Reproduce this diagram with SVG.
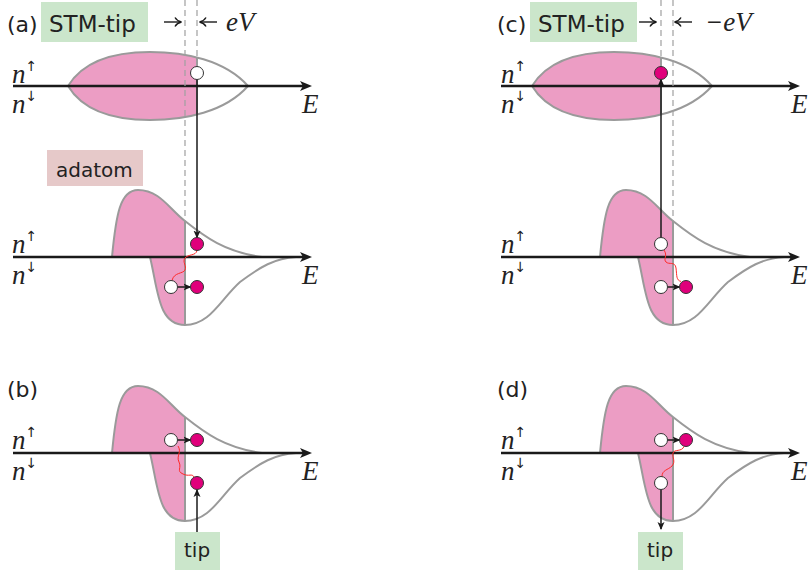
<svg xmlns="http://www.w3.org/2000/svg" width="808" height="570" viewBox="0 0 808 570">
<style>
.ax{stroke:#1a1a1a;stroke-width:2.6;fill:none;marker-end:url(#axh)}
.dos{fill:none;stroke:#9a9a9a;stroke-width:2}
.pk{fill:#ec9dc4;stroke:none}
.dash{stroke:#a0a0a0;stroke-width:1.2;stroke-dasharray:6,4;fill:none}
.lbl{font-family:"DejaVu Sans",sans-serif;fill:#222}
.math{font-family:"Liberation Serif",serif;font-style:italic;font-size:27px;fill:#222}
.sup{font-family:"DejaVu Sans",sans-serif;font-style:normal;font-size:14px;fill:#222}
.full{fill:#e0007b;stroke:#333;stroke-width:1}
.empty{fill:#fff;stroke:#333;stroke-width:1}
.arr{stroke:#1a1a1a;stroke-width:1.5;fill:none;marker-end:url(#ah)}
.ev{stroke:#1a1a1a;stroke-width:1.4;fill:none;marker-end:url(#evh)}
.wav{stroke:#ff2a2a;stroke-width:1;fill:none}
.tipbox{fill:#cbe6cb}
.adbox{fill:#e6c9c9}
</style>
<defs>
<marker id="ah" markerUnits="userSpaceOnUse" viewBox="0 0 8 8" markerWidth="8" markerHeight="8" refX="7" refY="4" orient="auto"><path d="M0,0.5 L8,4 L0,7.5 L2,4 z" fill="#1a1a1a"/></marker>
<marker id="evh" markerUnits="userSpaceOnUse" viewBox="0 0 8 10" markerWidth="8" markerHeight="10" refX="7" refY="5" orient="auto"><path d="M1,0.5 Q3,4 7.5,5 Q3,6 1,9.5" fill="none" stroke="#1a1a1a" stroke-width="1.4"/></marker>
<marker id="axh" markerUnits="userSpaceOnUse" viewBox="0 0 12 10" markerWidth="12" markerHeight="10" refX="3" refY="5" orient="auto"><path d="M0,0 L12,5 L0,10 L3,5 z" fill="#1a1a1a"/></marker>
<clipPath id="clipLens"><rect x="0" y="0" width="197" height="200"/></clipPath>
<g id="lens">
<path class="pk" clip-path="url(#clipLens)" d="M68,86 C85,58 120,52 150,52 C185,52 225,60 248,86 C225,112 185,120 150,120 C120,120 85,114 68,86 Z"/>
<path class="dos" d="M68,86 C85,58 120,52 150,52 C185,52 225,60 248,86 C225,112 185,120 150,120 C120,120 85,114 68,86 Z"/>
<path class="dos" d="M197,57.5 L197,114.5"/>
</g>
<g id="adDos">
<path class="pk" d="M112,257 C116,215 120,190 138,190 C160,190 170,210 185,221 L185,257 Z M150,257 C158,290 158,325 185,325 L185,257 Z"/>
<path class="dos" d="M112,257 C116,215 120,190 138,190 C160,190 170,210 185,221 C205,237 225,252 262,257 M150,257 C158,290 158,325 185,325 C210,325 220,300 240,282 C260,267 275,258 296,257 M185,221 L185,325"/>
</g>
</defs>

<!-- panel (a): tip -->
<g id="a-tip">
<use href="#lens"/>
<path class="ax" d="M13,86 L303,86"/>
<text class="lbl" x="7" y="32" font-size="22">(a)</text>
<rect class="tipbox" x="41" y="2" width="107" height="40"/>
<text class="lbl" x="49" y="32" font-size="23">STM-tip</text>
<path class="ev" d="M164,22 L181,22"/>
<path class="ev" d="M217,22 L200,22"/>
<text class="math" x="226" y="31">eV</text>
<text class="math" x="12" y="83">n<tspan class="sup" dy="-12">↑</tspan></text>
<text class="math" x="12" y="113">n<tspan class="sup" dy="-12">↓</tspan></text>
<text class="math" x="302" y="113">E</text>
</g>

<!-- panel (a): adatom -->
<g id="a-adatom">
<use href="#adDos"/>
<path class="ax" d="M13,257 L303,257"/>
<rect class="adbox" x="47" y="150" width="96" height="36"/>
<text class="lbl" x="56" y="177" font-size="20">adatom</text>
<text class="math" x="12" y="253">n<tspan class="sup" dy="-12">↑</tspan></text>
<text class="math" x="12" y="284">n<tspan class="sup" dy="-12">↓</tspan></text>
<text class="math" x="302" y="284">E</text>
</g>

<!-- panel (b) -->
<g id="b-adatom">
<use href="#adDos" transform="translate(0,196)"/>
<path class="ax" d="M13,453 L303,453"/>
<text class="lbl" x="7" y="397" font-size="22">(b)</text>
<text class="math" x="12" y="449">n<tspan class="sup" dy="-12">↑</tspan></text>
<text class="math" x="12" y="480">n<tspan class="sup" dy="-12">↓</tspan></text>
<text class="math" x="302" y="480">E</text>
</g>
<g id="b-tip">
<rect class="tipbox" x="175" y="532" width="45" height="38"/>
<text class="lbl" x="184" y="557" font-size="20">tip</text>
</g>

<!-- panel (c): tip -->
<g id="c-tip">
<use href="#lens" transform="translate(464,0)"/>
<path class="ax" d="M501,86 L791,86"/>
<text class="lbl" x="497" y="32" font-size="22">(c)</text>
<rect class="tipbox" x="530" y="2" width="107" height="40"/>
<text class="lbl" x="538" y="32" font-size="23">STM-tip</text>
<path class="ev" d="M639,22 L656,22"/>
<path class="ev" d="M692,22 L675,22"/>
<text class="math" x="705" y="31">−eV</text>
<text class="math" x="501" y="83">n<tspan class="sup" dy="-12">↑</tspan></text>
<text class="math" x="501" y="113">n<tspan class="sup" dy="-12">↓</tspan></text>
<text class="math" x="791" y="113">E</text>
</g>

<!-- panel (c): adatom -->
<g id="c-adatom">
<use href="#adDos" transform="translate(488,0)"/>
<path class="ax" d="M501,257 L791,257"/>
<text class="math" x="501" y="253">n<tspan class="sup" dy="-12">↑</tspan></text>
<text class="math" x="501" y="284">n<tspan class="sup" dy="-12">↓</tspan></text>
<text class="math" x="791" y="284">E</text>
</g>

<!-- panel (d) -->
<g id="d-adatom">
<use href="#adDos" transform="translate(488,196)"/>
<path class="ax" d="M501,453 L791,453"/>
<text class="lbl" x="497" y="397" font-size="22">(d)</text>
<text class="math" x="501" y="449">n<tspan class="sup" dy="-12">↑</tspan></text>
<text class="math" x="501" y="480">n<tspan class="sup" dy="-12">↓</tspan></text>
<text class="math" x="791" y="480">E</text>
</g>
<g id="d-tip">
<rect class="tipbox" x="638" y="532" width="45" height="38"/>
<text class="lbl" x="647" y="557" font-size="20">tip</text>
</g>

<!-- connectors: dashed Fermi levels, tunnelling arrows, spin-flip wiggles -->
<g id="connectors">
<path class="dash" d="M185,0 L185,221 M197,0 L197,66.5"/>
<path class="dash" d="M673,0 L673,221 M661,0 L661,66.5"/>

<path class="arr" d="M197,79.5 L197,237.5"/>
<path class="arr" d="M177.5,287 L190.5,287"/>
<path class="wav" d="M197,250.5 C196,256 188,254 185,258 C182,262 187,266 185,270 C183,274 174,272 172,280.5"/>

<path class="arr" d="M177.5,440 L190.5,440"/>
<path class="arr" d="M197,532 L197,490"/>
<path class="wav" d="M178,446 C182,452 176,456 179,462 C182,468 176,471 183,474 C189,477 192,473 194,477"/>

<path class="arr" d="M661,237.5 L661,79.5"/>
<path class="arr" d="M667.5,287 L679.5,287"/>
<path class="wav" d="M664,250 C668,256 663,259 666,262 C669,265 675,261 676,268 C677,276 676,280 681,281.5"/>

<path class="arr" d="M667.5,440 L679.5,440"/>
<path class="arr" d="M661,489.5 L661,529"/>
<path class="wav" d="M684,446.5 C682,452 674,449 673,453 C672,458 676,461 672,466 C668,470 662,470 662,476.5"/>
</g>

<g id="electrons">
<circle class="empty" cx="197" cy="73" r="6.5"/>
<circle class="full" cx="197" cy="244" r="6.5"/>
<circle class="empty" cx="171" cy="287" r="6.5"/>
<circle class="full" cx="197" cy="287" r="6.5"/>
<circle class="empty" cx="171" cy="440" r="6.5"/>
<circle class="full" cx="197" cy="440" r="6.5"/>
<circle class="full" cx="197" cy="483" r="6.5"/>
<circle class="full" cx="661" cy="73" r="6.5"/>
<circle class="empty" cx="661" cy="244" r="6.5"/>
<circle class="empty" cx="661" cy="287" r="6.5"/>
<circle class="full" cx="686" cy="287" r="6.5"/>
<circle class="empty" cx="661" cy="440" r="6.5"/>
<circle class="full" cx="686" cy="440" r="6.5"/>
<circle class="empty" cx="661" cy="483" r="6.5"/>
</g>
</svg>
